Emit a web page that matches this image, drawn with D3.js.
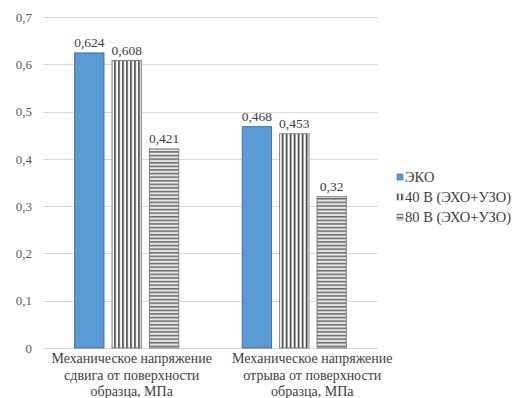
<!DOCTYPE html>
<html>
<head>
<meta charset="utf-8">
<script src="https://cdn.jsdelivr.net/npm/d3@7"></script>
<style>
  html, body { margin: 0; padding: 0; background: #fff; }
  svg { display: block; }
</style>
</head>
<body>
<svg id="chart" width="517" height="398"></svg>
<script>
// Measured stresses, MPa
const categories = [
  ["Механическое напряжение", "сдвига от поверхности", "образца, МПа"],
  ["Механическое напряжение", "отрыва от поверхности", "образца, МПа"]
];
const seriesNames = ["ЭКО", "40 В (ЭХО+УЗО)", "80 В (ЭХО+УЗО)"];
const ekoValues = [0.624, 0.468];
const v40Values = [0.608, 0.453];
const v80Values = [0.421, 0.32];
const yTicks = [0, 0.1, 0.2, 0.3, 0.4, 0.5, 0.6, 0.7];

const seriesValues = [ekoValues, v40Values, v80Values];
const fmt = v => String(v).replace(".", ",");
const FONT = "'Liberation Serif', 'Times New Roman', serif";

const svg = d3.select("#chart");
const plot = { left: 43, right: 378, top: 17, bottom: 348 };
// horizontal nudge of each category caption relative to its group centre
const captionShift = [5, 18];

// Fill patterns for the two voltage series
const defs = svg.append("defs");
const pv = defs.append("pattern").attr("id", "vstripe")
  .attr("patternUnits", "userSpaceOnUse").attr("width", 4).attr("height", 4);
pv.append("rect").attr("width", 4).attr("height", 4).attr("fill", "#fff");
pv.append("rect").attr("x", 0).attr("width", 1.6).attr("height", 4).attr("fill", "#3a3a3a");
const ph = defs.append("pattern").attr("id", "hstripe")
  .attr("patternUnits", "userSpaceOnUse").attr("width", 4).attr("height", 3.6);
ph.append("rect").attr("width", 4).attr("height", 3.6).attr("fill", "#e6e6e6");
ph.append("rect").attr("y", 0).attr("width", 4).attr("height", 1.5).attr("fill", "#6a6a6a");

const fills = ["#5B9BD5", "url(#vstripe)", "url(#hstripe)"];
const strokes = ["#41719C", "#7f7f7f", "#7f7f7f"];

const y = d3.scaleLinear().domain([0, 0.7]).range([plot.bottom, plot.top]);
const x0 = d3.scaleBand().domain(d3.range(categories.length))
  .range([plot.left, plot.right]).paddingInner(0.373).paddingOuter(0.186);
const x1 = d3.scaleBand().domain(d3.range(seriesNames.length))
  .range([0, x0.bandwidth()]).paddingInner(0.19);

// Gridlines
svg.append("g").selectAll("line").data(yTicks).join("line")
  .attr("x1", plot.left).attr("x2", plot.right)
  .attr("y1", d => Math.round(y(d)) + 0.5).attr("y2", d => Math.round(y(d)) + 0.5)
  .attr("stroke", "#d9d9d9").attr("stroke-width", 1);

// Y axis labels
const yAxis = d3.axisLeft(y).tickValues(yTicks).tickFormat(d => fmt(d)).tickSize(0).tickPadding(11);
const ya = svg.append("g").attr("transform", `translate(${plot.left},0)`).call(yAxis)
  .attr("font-family", FONT).attr("font-size", 13);
ya.select(".domain").remove();
ya.selectAll("text").attr("fill", "#595959");

// Bars
const groups = svg.append("g").selectAll("g").data(categories).join("g")
  .attr("transform", (d, i) => `translate(${x0(i)},0)`);
groups.each(function(cat, ci) {
  const g = d3.select(this);
  seriesValues.forEach((vals, si) => {
    const v = vals[ci];
    g.append("rect")
      .attr("x", x1(si) + 0.5).attr("y", y(v))
      .attr("width", x1.bandwidth() - 1).attr("height", y(0) - y(v))
      .attr("fill", fills[si]).attr("stroke", strokes[si]).attr("stroke-width", 1);
    g.append("text")
      .attr("x", x1(si) + x1.bandwidth() / 2).attr("y", y(v) - 6)
      .attr("text-anchor", "middle").attr("fill", "#404040")
      .attr("font-family", FONT).attr("font-size", 13.5).text(fmt(v));
  });
});

// Category labels
const catG = svg.append("g").selectAll("text").data(categories).join("text")
  .attr("text-anchor", "middle")
  .attr("transform", (d, i) => `translate(${x0(i) + x0.bandwidth() / 2 + captionShift[i]},${plot.bottom + 15})`)
  .attr("fill", "#404040").attr("font-family", FONT).attr("font-size", 14);
catG.selectAll("tspan").data(d => d).join("tspan")
  .attr("x", 0).attr("dy", (d, i) => i === 0 ? 0 : 16.5).text(d => d);

// Legend
const legend = svg.append("g").attr("transform", "translate(397,177)");
const li = legend.selectAll("g").data(seriesNames).join("g")
  .attr("transform", (d, i) => `translate(0,${i * 20})`);
li.append("rect").attr("x", 0).attr("y", -3).attr("width", 6).attr("height", 6)
  .attr("fill", (d, i) => fills[i]).attr("stroke", (d, i) => strokes[i]).attr("stroke-width", 0.6);
li.append("text").attr("x", 8).attr("y", 4.5).attr("fill", "#404040")
  .attr("font-family", FONT).attr("font-size", 14.5).text(d => d);
</script>
</body>
</html>
